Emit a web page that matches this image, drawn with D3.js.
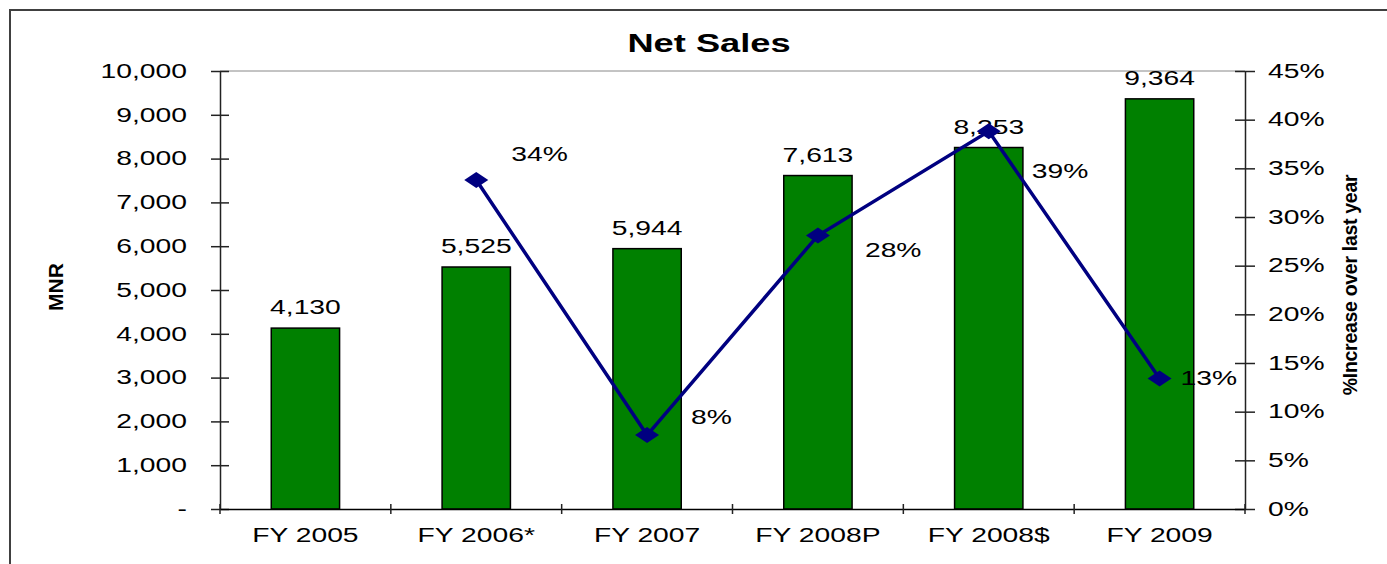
<!DOCTYPE html>
<html>
<head>
<meta charset="utf-8">
<script src="https://cdn.jsdelivr.net/npm/d3@7"></script>
<style>
  body { margin: 0; background: #fff; }
  svg text { font-family: "Liberation Sans", Arial, sans-serif; fill: #000; }
</style>
</head>
<body>
<div class="chart"></div>
<script>
//Chart data.
var categories = ["FY 2005", "FY 2006*", "FY 2007", "FY 2008P", "FY 2008$", "FY 2009"];
var netSales = [4130, 5525, 5944, 7613, 8253, 9364];
var growthCategories = ["FY 2006*", "FY 2007", "FY 2008P", "FY 2008$", "FY 2009"];
var growthPct = [33.8, 7.6, 28.1, 38.8, 13.4];
var salesTicks = [0, 1000, 2000, 3000, 4000, 5000, 6000, 7000, 8000, 9000, 10000];
var pctTicks = [0, 5, 10, 15, 20, 25, 30, 35, 40, 45];

//SVG area and plot box.
var svgWidth = 1387;
var svgHeight = 564;
var plot = { left: 220, right: 1245, top: 71, bottom: 509 };

//The original text is drawn wider than normal.
var SX = 1.45;

var svg = d3.select(".chart")
  .append("svg")
  .attr("width", svgWidth)
  .attr("height", svgHeight);

//Outer frame.
svg.append("rect")
  .attr("x", 10).attr("y", 10)
  .attr("width", 1400).attr("height", 600)
  .attr("fill", "none")
  .attr("stroke", "#404040")
  .attr("stroke-width", 2);

//Scales.
var x = d3.scaleBand()
  .domain(categories)
  .range([plot.left, plot.right])
  .paddingInner(0.6)
  .paddingOuter(0.3);

var yLeft = d3.scaleLinear()
  .domain([0, 10000])
  .range([plot.bottom, plot.top]);

var yRight = d3.scaleLinear()
  .domain([0, 45])
  .range([plot.bottom, plot.top]);

function center(c) { return x(c) + x.bandwidth() / 2; }

function widen(sel) {
  sel.each(function() {
    var t = d3.select(this);
    var tx = +t.attr("x") || 0;
    t.attr("x", tx / SX).attr("transform", "scale(" + SX + ",1)");
  });
}

//Top border of the plot area.
svg.append("line")
  .attr("x1", plot.left).attr("x2", plot.right)
  .attr("y1", plot.top).attr("y2", plot.top)
  .attr("stroke", "#888")
  .attr("stroke-width", 1);

//Left axis.
var leftAxis = d3.axisLeft(yLeft)
  .tickValues(salesTicks)
  .tickSize(9)
  .tickSizeOuter(0)
  .tickPadding(24)
  .tickFormat(function(d) { return d === 0 ? "-" : d3.format(",")(d); });

var gLeft = svg.append("g")
  .attr("transform", "translate(" + plot.left + ",0)")
  .call(leftAxis);
gLeft.selectAll(".tick line").attr("x1", 9);
gLeft.selectAll("text").style("font-size", "19.5px");
widen(gLeft.selectAll("text"));

//Right axis.
var rightAxis = d3.axisRight(yRight)
  .tickValues(pctTicks)
  .tickSize(10)
  .tickSizeOuter(0)
  .tickPadding(13)
  .tickFormat(function(d) { return d + "%"; });

var gRight = svg.append("g")
  .attr("transform", "translate(" + plot.right + ",0)")
  .call(rightAxis);
gRight.selectAll(".tick line").attr("x1", -10);
gRight.selectAll("text").style("font-size", "19.5px");
widen(gRight.selectAll("text"));

svg.selectAll(".domain, .tick line")
  .attr("stroke", "#222")
  .attr("stroke-width", 1.5);

//Axis titles.
svg.append("text")
  .attr("transform", "translate(63,287) rotate(-90)")
  .attr("text-anchor", "middle")
  .style("font-size", "21px")
  .style("font-weight", "bold")
  .text("MNR");

svg.append("text")
  .attr("transform", "translate(1357,285) rotate(-90)")
  .attr("text-anchor", "middle")
  .style("font-size", "19.5px")
  .style("font-weight", "bold")
  .style("letter-spacing", "-0.3px")
  .text("%Increase over last year");

//Chart title.
svg.append("text")
  .attr("transform", "translate(709,52) scale(" + SX + ",1)")
  .attr("text-anchor", "middle")
  .style("font-size", "25px")
  .style("font-weight", "bold")
  .text("Net Sales");

//Bars.
svg.append("g")
  .selectAll("rect")
  .data(netSales)
  .enter()
  .append("rect")
  .attr("x", function(d, i) { return x(categories[i]); })
  .attr("y", function(d) { return yLeft(d); })
  .attr("width", x.bandwidth())
  .attr("height", function(d) { return yLeft(0) - yLeft(d); })
  .attr("fill", "#008000")
  .attr("stroke", "#000")
  .attr("stroke-width", 1.5);

//Bottom axis with ticks between categories.
var bottomAxis = d3.axisBottom(x)
  .tickSize(0)
  .tickSizeOuter(0)
  .tickPadding(19);

var gBottom = svg.append("g")
  .attr("transform", "translate(0," + plot.bottom + ")")
  .call(bottomAxis);
gBottom.select(".domain").attr("stroke", "#000").attr("stroke-width", 1.5);
gBottom.selectAll("text").style("font-size", "19.5px");
widen(gBottom.selectAll("text"));

gBottom.selectAll(".between")
  .data(d3.range(categories.length + 1))
  .enter()
  .append("line")
  .attr("class", "between")
  .attr("x1", function(i) { return x.range()[0] + i * x.step(); })
  .attr("x2", function(i) { return x.range()[0] + i * x.step(); })
  .attr("y1", -5).attr("y2", 5)
  .attr("stroke", "#222")
  .attr("stroke-width", 1.5);

//Value labels above the bars.
svg.append("g")
  .selectAll("text")
  .data(netSales)
  .enter()
  .append("text")
  .attr("transform", function(d, i) {
    return "translate(" + center(categories[i]) + "," + (yLeft(d) - 14) + ") scale(" + SX + ",1)";
  })
  .attr("text-anchor", "middle")
  .style("font-size", "19.5px")
  .text(function(d) { return d3.format(",")(d); });

//Growth labels, nudged like the original.
var pctLabelShift = [[35, -19], [44, -11], [47, 22], [43, 47], [21, 6]];
svg.append("g")
  .selectAll("text")
  .data(growthPct)
  .enter()
  .append("text")
  .attr("transform", function(d, i) {
    var px = center(growthCategories[i]) + pctLabelShift[i][0];
    var py = yRight(d) + pctLabelShift[i][1];
    return "translate(" + px + "," + py + ") scale(" + SX + ",1)";
  })
  .style("font-size", "19.5px")
  .text(function(d) { return Math.round(d) + "%"; });

//Growth line and markers.
var line = d3.line()
  .x(function(d, i) { return center(growthCategories[i]); })
  .y(function(d) { return yRight(d); });

svg.append("path")
  .datum(growthPct)
  .attr("d", line)
  .attr("fill", "none")
  .attr("stroke", "#000080")
  .attr("stroke-width", 3.5);

svg.append("g")
  .selectAll("path")
  .data(growthPct)
  .enter()
  .append("path")
  .attr("transform", function(d, i) {
    return "translate(" + center(growthCategories[i]) + "," + yRight(d) + ")";
  })
  .attr("d", "M0,-8L12,0L0,8L-12,0Z")
  .attr("fill", "#000080");
</script>
</body>
</html>
